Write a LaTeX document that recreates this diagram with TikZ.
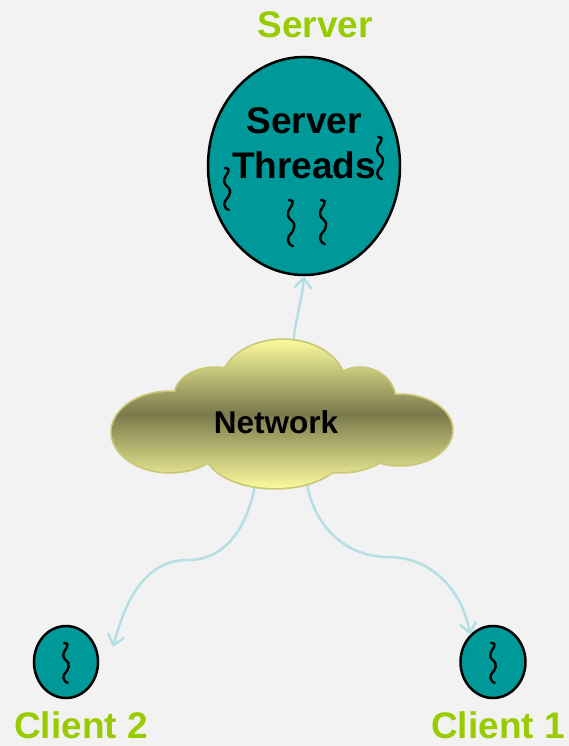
\documentclass[tikz,border=0pt]{standalone}
\usepackage{fontspec}
\setmainfont{Liberation Sans}
\usetikzlibrary{arrows.meta,shapes.geometric}
\definecolor{bg}{HTML}{F2F2F2}
\definecolor{tealc}{HTML}{009999}
\definecolor{limec}{HTML}{99CC00}
\definecolor{arrowc}{HTML}{B4DFE3}
\definecolor{cloudhi}{HTML}{FAFA9C}
\definecolor{cloudlo}{HTML}{7A7A4C}
\definecolor{cloudedge}{HTML}{C8C878}
\begin{document}
\begin{tikzpicture}[x=1pt,y=-1pt,
  bigfont/.style={font=\fontsize{37}{45}\selectfont\bfseries},
  lbl/.style={bigfont,text=limec,anchor=base,inner sep=0pt},
  orb/.style={ellipse,draw=black,line width=2.5pt,fill=tealc,inner sep=0pt},
  conn/.style={draw=arrowc,line width=2.5pt,-{Straight Barb[length=10pt,width=17pt]}},
  squig/.pic={\draw[line width=2.4pt,line cap=round,line join=round]
     (-2,0) -- (1.5,0.8) .. controls (2.5,6) and (-3.8,8) .. (-2.8,14)
     .. controls (-2,19) and (3.8,18) .. (2.8,25)
     .. controls (2,31) and (-3.2,31) .. (-2.7,37)
     .. controls (-2.3,40) and (0,41.5) .. (1.8,42);}]
\fill[bg] (0,0) rectangle (569,746);
\useasboundingbox (0,0) rectangle (569,746);

% server
\node[orb,minimum width=192pt,minimum height=218pt] (srv) at (304,166) {};
\node[bigfont,align=center,inner sep=0pt] (st) at (304,143) {Server\\Threads};
\pic at (380,137) {squig};
\pic at (227,168) {squig};
\pic at (291,200) [scale=1.1] {squig};
\pic at (323,200) [scale=1.05] {squig};
\node[lbl] (lsrv) at (315,38) {Server};

% clients
\node[orb,minimum width=64pt,minimum height=72pt] (c2) at (66,662) {};
\node[orb,minimum width=65pt,minimum height=72pt] (c1) at (493,662) {};
\pic at (66,643) [scale=0.95] {squig};
\pic at (493,643) [scale=0.95] {squig};
\node[lbl] (lc2) at (81,738) {Client 2};
\node[lbl] (lc1) at (498,738) {Client 1};

% connectors
\coordinate (nt) at (293,345);
\coordinate (nbl) at (255,485);
\coordinate (nbr) at (307,484);
\coordinate (lm) at (188,560);
\coordinate (rm) at (388,557);
\coordinate (c2tip) at (113,647);
\draw[conn] (nt) to[out=85,in=-95] (srv.south);
\draw[conn] (nbl) to[out=-100,in=0] (lm) to[out=180,in=75] (c2tip);
\draw[conn] (nbr) to[out=-80,in=180] (rm) to[out=0,in=100] (c1.130);

% cloud
\foreach \cx/\cy/\rx/\ry in {170/432/58/40, 215/396/40/28, 283/385/62/45, 360/400/35/32,
    400/430/52/35, 275/450/70/38, 340/440/55/32, 280/425/120/40}{
  \draw[cloudedge,line width=3.5pt] (\cx,\cy) ellipse[x radius=\rx, y radius=\ry];
}
\shade[top color=cloudhi,bottom color=cloudhi,middle color=cloudlo]
  (170,432) ellipse[x radius=58, y radius=40]
  (215,396) ellipse[x radius=40, y radius=28]
  (283,385) ellipse[x radius=62, y radius=45]
  (360,400) ellipse[x radius=35, y radius=32]
  (400,430) ellipse[x radius=52, y radius=35]
  (275,450) ellipse[x radius=70, y radius=38]
  (340,440) ellipse[x radius=55, y radius=32]
  (280,425) ellipse[x radius=120, y radius=40];
\node[font=\fontsize{31.5}{36}\selectfont\bfseries,inner sep=0pt] (net) at (276,422) {Network};
\end{tikzpicture}
\end{document}
